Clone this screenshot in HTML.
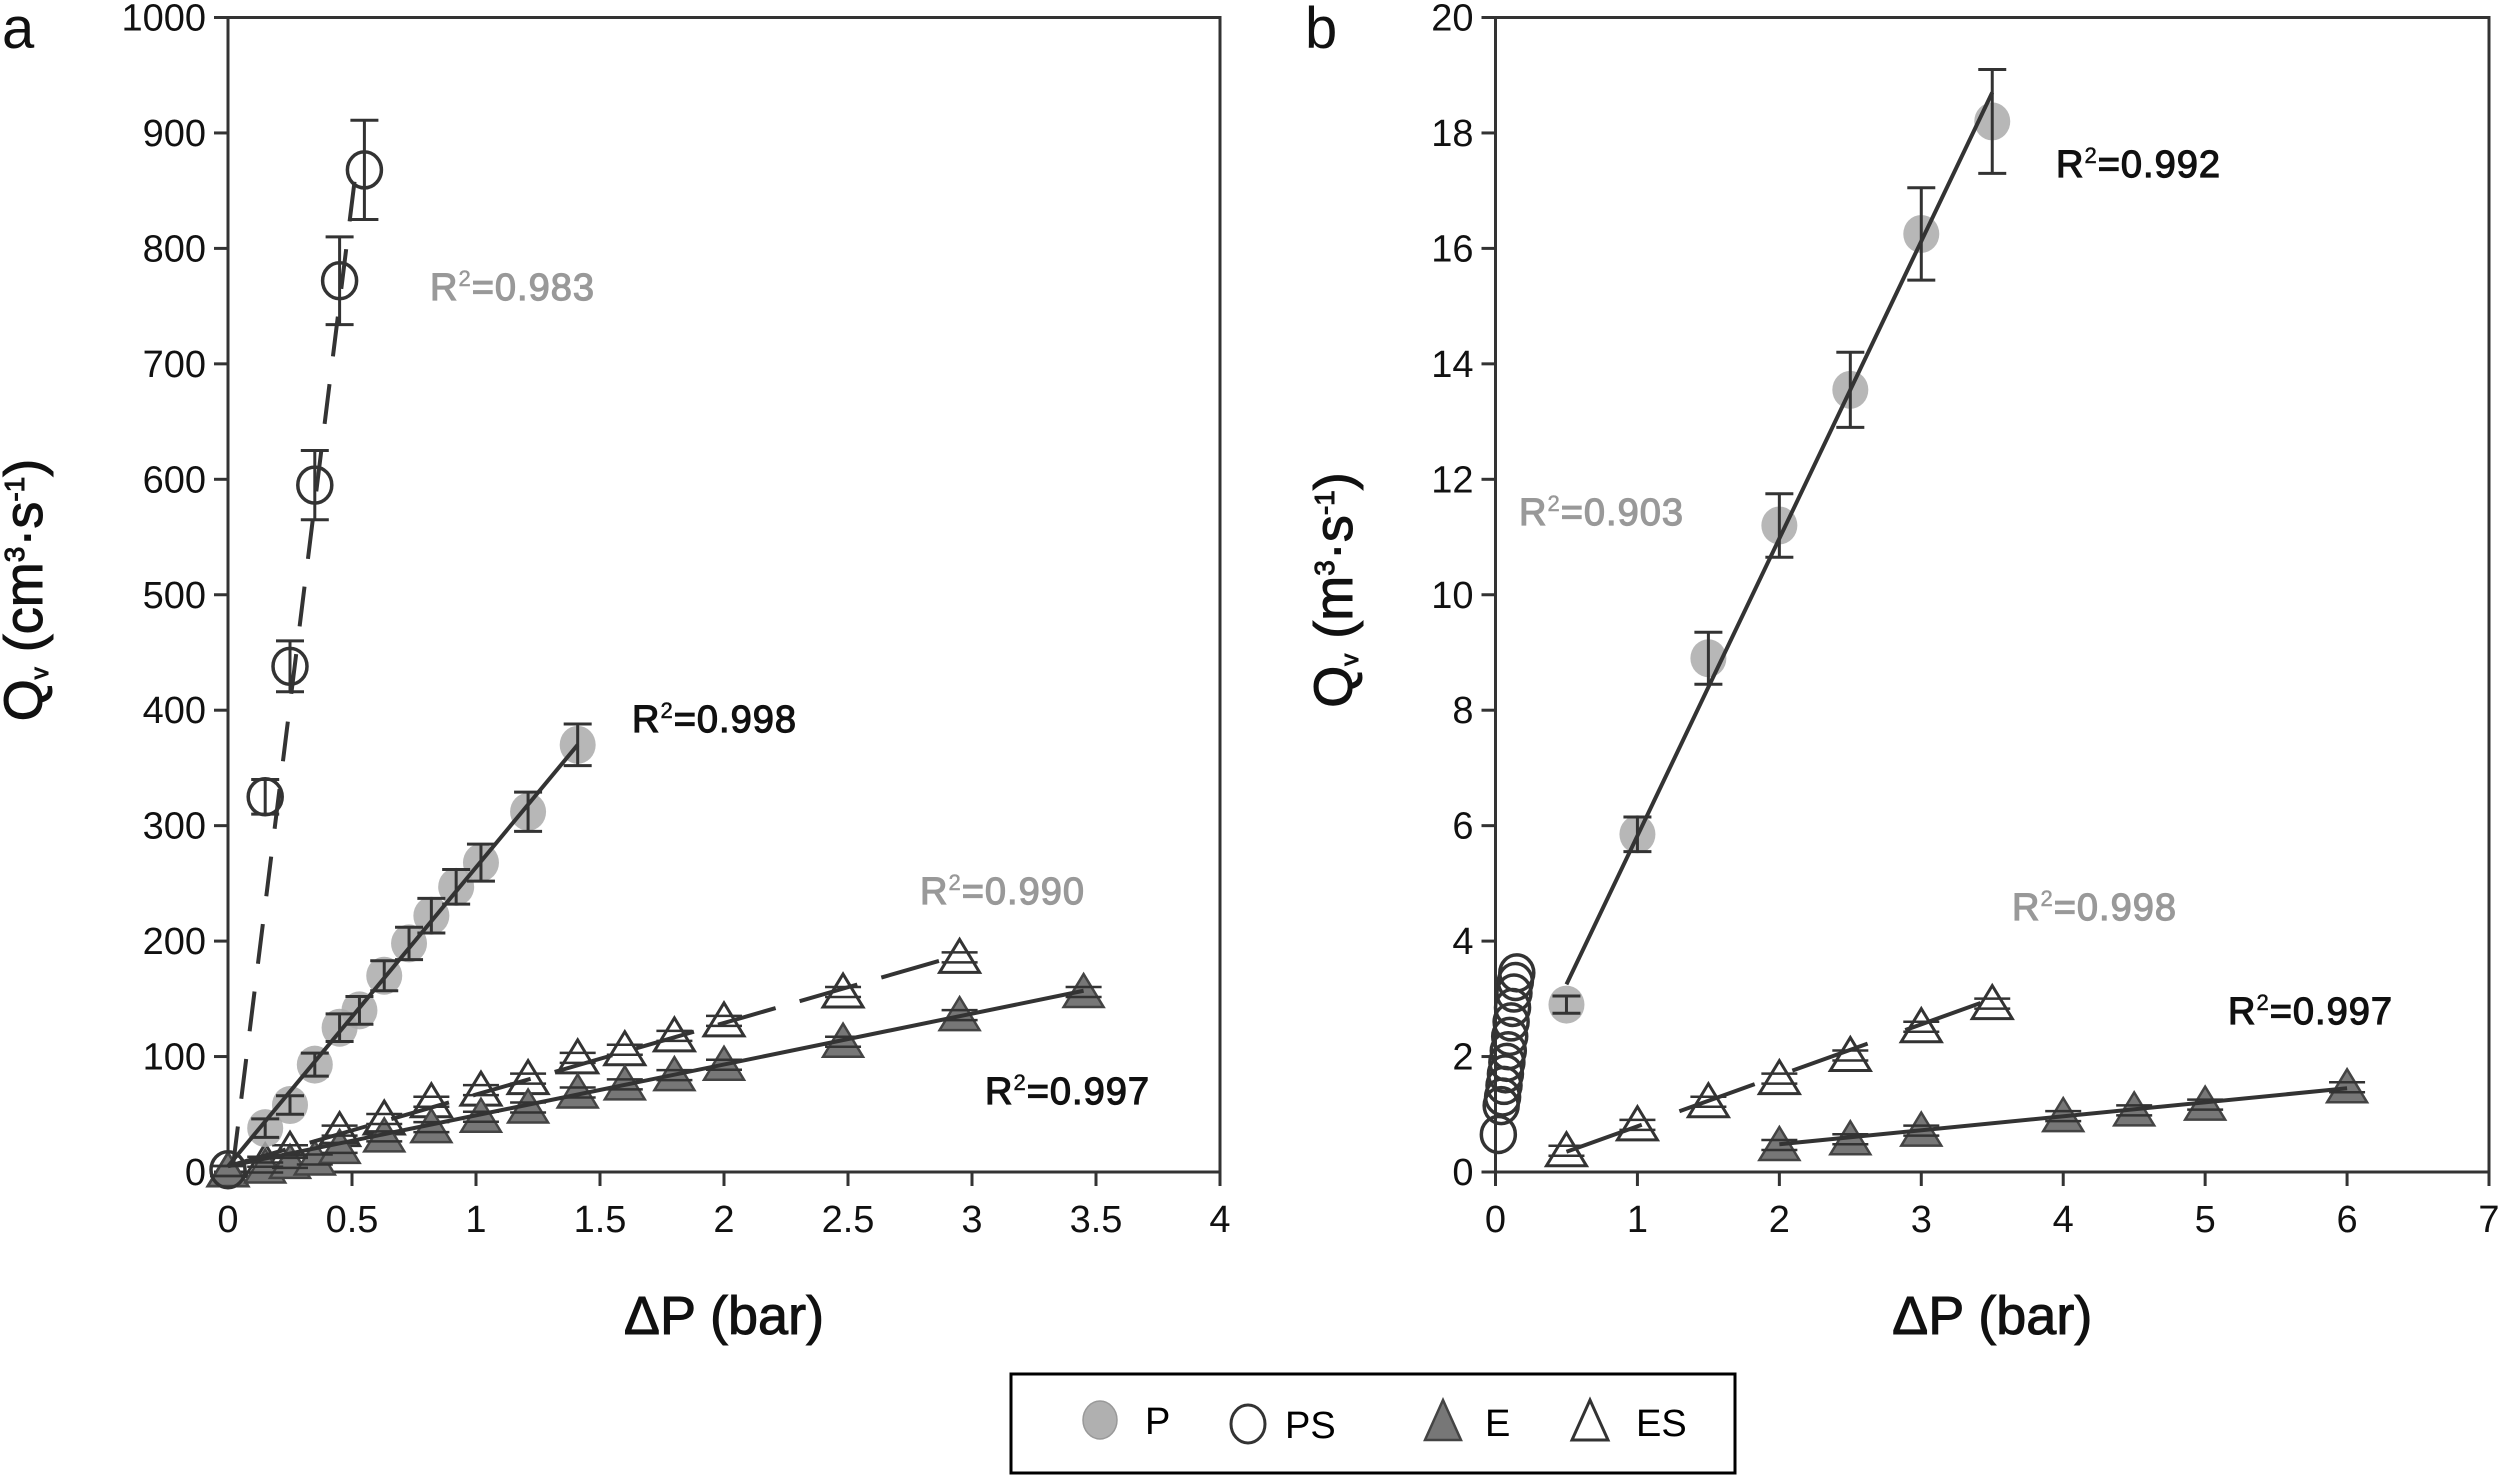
<!DOCTYPE html>
<html><head><meta charset="utf-8"><style>
html,body{margin:0;padding:0;background:#fff;}
svg{display:block;font-family:"Liberation Sans",Arial,sans-serif;}
</style></head><body>
<svg id="fig" width="2500" height="1475" viewBox="0 0 2500 1475">
<g id="pa"></g>
<g id="pb"></g>
<g id="legend">
<rect x="1011" y="1374" width="724" height="99" fill="#fff" stroke="#000" stroke-width="3"/>
<g><ellipse cx="1100" cy="1420" rx="17" ry="19" fill="#b0b0b0" stroke="#999" stroke-width="1.5"/><text x="1145" y="1434" font-size="38">P</text></g>
<g><ellipse cx="1248" cy="1424" rx="17" ry="19" fill="none" stroke="#333" stroke-width="3"/><text x="1285" y="1438" font-size="38">PS</text></g>
<g><polygon points="1443,1400 1461,1440 1425,1440" fill="#777" stroke="#444" stroke-width="2.5"/><text x="1485" y="1436" font-size="38">E</text></g>
<g><polygon points="1590,1400 1608,1440 1572,1440" fill="#fff" stroke="#333" stroke-width="3"/><text x="1636" y="1436" font-size="38">ES</text></g>
</g>
</svg>
<script>
// ---- Panel a data ----
const aP_x=[0.15,0.25,0.35,0.45,0.53,0.63,0.73,0.82,0.92,1.02,1.21,1.41];
const aP_y=[38,58,93,125,140,170,198,222,247,268,312,370];
const aP_err=[8,8,10,12,12,13,14,15,15,16,17,18];
const aPS_x=[0,0.15,0.25,0.35,0.45,0.55];
const aPS_y=[2,325,438,595,772,868];
const aPS_err=[0,15,22,30,38,43];
const aE_x=[0,0.15,0.25,0.35,0.45,0.63,0.82,1.02,1.21,1.41,1.6,1.8,2,2.48,2.95,3.45];
const aE_y=[0,3,7,10,20,30,38,47,55,68,75,83,92,112,135,155];
const aES_x=[0,0.15,0.25,0.45,0.63,0.82,1.02,1.21,1.41,1.6,1.8,2,2.48,2.95];
const aES_y=[0,8,18,35,45,60,70,80,98,105,117,130,155,185];
const aFitP=[[0,5],[1.41,370]];
const aFitPS=[[0.02,5],[0.52,875]];
const aFitE=[[0,5],[3.45,157]];
const aFitES=[[0,5],[2.95,188]];
const aXTicks=[0,0.5,1,1.5,2,2.5,3,3.5,4];
const aYTicks=[0,100,200,300,400,500,600,700,800,900,1000];
// ---- Panel b data ----
const bP_x=[0.5,1,1.5,2,2.5,3,3.5];
const bP_y=[2.9,5.85,8.9,11.2,13.55,16.25,18.2];
const bP_err=[0.15,0.3,0.45,0.55,0.65,0.8,0.9];
const bPS_x=[0.02,0.04,0.05,0.06,0.07,0.08,0.09,0.1,0.11,0.12,0.13,0.14,0.15];
const bPS_y=[0.65,1.15,1.3,1.5,1.7,1.9,2.1,2.35,2.6,2.85,3.1,3.3,3.45];
const bES_x=[0.5,1,1.5,2,2.5,3,3.5];
const bES_y=[0.35,0.8,1.2,1.6,2.0,2.5,2.9];
const bE_x=[2,2.5,3,4,4.5,5,6];
const bE_y=[0.45,0.55,0.7,0.95,1.05,1.15,1.45];
const bFitP=[[0.5,3.25],[3.5,18.7]];
const bFitES=[[0.5,0.35],[3.5,3.0]];
const bFitE=[[2,0.48],[6,1.45]];
const bXTicks=[0,1,2,3,4,5,6,7];
const bYTicks=[0,2,4,6,8,10,12,14,16,18,20];

const NS="http://www.w3.org/2000/svg";
function mk(tag,attrs,parent,txt){const e=document.createElementNS(NS,tag);for(const k in attrs)e.setAttribute(k,attrs[k]);if(txt!==undefined)e.textContent=txt;parent.appendChild(e);return e;}

function panel(g,cfg){
  const L=cfg.L,R=cfg.R,T=17.5,B=1172;
  const sx=v=>L+(v-cfg.xmin)/(cfg.xmax-cfg.xmin)*(R-L);
  const sy=v=>B-(v-0)/(cfg.ymax)*(B-T);
  const fr=mk('rect',{x:L,y:T,width:R-L,height:B-T,fill:'none',stroke:'#333','stroke-width':3},g);
  
  
  const xt=mk('g',{},g);
  
  
  cfg.xt.forEach(v=>{mk('line',{x1:sx(v),x2:sx(v),y1:B,y2:B+14,stroke:'#333','stroke-width':3},xt);
    const t=mk('text',{x:sx(v),y:B+60,'font-size':38,'text-anchor':'middle',fill:'#111'},xt,String(v));
    
    });
  const yt=mk('g',{},g);
  
  
  cfg.yt.forEach(v=>{mk('line',{x1:L-14,x2:L,y1:sy(v),y2:sy(v),stroke:'#333','stroke-width':3},yt);
    const t=mk('text',{x:L-22,y:sy(v)+13,'font-size':38,'text-anchor':'end',fill:'#111'},yt,String(v));
    
    });
  const xtitle=mk('text',{x:(L+R)/2,y:1334,'font-size':54,'text-anchor':'middle',fill:'#111','stroke':'#111','stroke-width':1},g,'ΔP (bar)');
  
  
  const ytitle=mk('text',{transform:`translate(${cfg.ytx},590) rotate(-90)`,'font-size':54,'text-anchor':'middle',fill:'#111','stroke':'#111','stroke-width':1},g);
  
  
  mk('tspan',{},ytitle,'Q');mk('tspan',{'font-size':24,dy:6},ytitle,'v');
  mk('tspan',{dy:-6},ytitle,' ('+cfg.unit);mk('tspan',{'font-size':28,dy:-18},ytitle,'3');
  mk('tspan',{dy:18},ytitle,'·s');mk('tspan',{'font-size':28,dy:-18},ytitle,'-1');mk('tspan',{dy:18},ytitle,')');
  const lab=mk('text',{x:cfg.labx,y:48,'font-size':58,fill:'#111'},g,cfg.lab);
  
  
  return {sx,sy};
}
function fit(g,s,pts,dash,name){
  const l=mk('line',{x1:s.sx(pts[0][0]),y1:s.sy(pts[0][1]),x2:s.sx(pts[1][0]),y2:s.sy(pts[1][1]),stroke:'#333','stroke-width':4,'stroke-dasharray':dash||'none'},g);
  
  
}
function errs(g,s,xs,ys,es){
  xs.forEach((x,i)=>{const e=es[i];if(!e)return;const X=s.sx(x);
    mk('path',{d:`M${X-14},${s.sy(ys[i]+e)}h28M${X},${s.sy(ys[i]+e)}V${s.sy(ys[i]-e)}M${X-14},${s.sy(ys[i]-e)}h28`,stroke:'#333','stroke-width':3,fill:'none'},g);});
}
function triBars(g,s,xs,ys){
  xs.forEach((x,i)=>{const X=s.sx(x),Y=s.sy(ys[i]);
    mk('path',{d:`M${X-18},${Y-6}h36M${X-18},${Y+4}h36`,stroke:'#333','stroke-width':2.5,fill:'none'},g);});
}
function pts(g,s,xs,ys,type,name){
  const grp=mk('g',{},g);
  
  
  xs.forEach((x,i)=>{const X=s.sx(x),Y=s.sy(ys[i]);let m;
    if(type==='P')m=mk('ellipse',{cx:X,cy:Y,rx:18,ry:19,fill:'#aaa','fill-opacity':0.85,stroke:'none'},grp);
    else if(type==='PS')m=mk('ellipse',{cx:X,cy:Y,rx:17,ry:18,fill:'none',stroke:'#333','stroke-width':3.5},grp);
    else if(type==='E')m=mk('polygon',{points:`${X},${Y-19} ${X+20},${Y+14} ${X-20},${Y+14}`,fill:'#777',stroke:'#444','stroke-width':2.5},grp);
    else m=mk('polygon',{points:`${X},${Y-19} ${X+20},${Y+14} ${X-20},${Y+14}`,fill:'#fff',stroke:'#333','stroke-width':3},grp);
    
    });
}
function r2(g,x,y,val,col){
  const t=mk('text',{x:x,y:y,'font-size':38,fill:col,stroke:col,'stroke-width':1.2,'letter-spacing':1},g);
  
  
  mk('tspan',{},t,'R');mk('tspan',{'font-size':22,dy:-14,'stroke-width':0.5},t,'2');mk('tspan',{dy:14},t,'='+val);
}
// Panel a
const ga=document.getElementById('pa');
const sa=panel(ga,{L:228,R:1220,xmin:0,xmax:4,ymax:1000,xt:aXTicks,yt:aYTicks,unit:'cm',ytx:42,labx:2,lab:'a'});
pts(ga,sa,aES_x,aES_y,'ES','series-es');
pts(ga,sa,aE_x,aE_y,'E','series-e');
triBars(ga,sa,aES_x,aES_y);triBars(ga,sa,aE_x,aE_y);
pts(ga,sa,aP_x,aP_y,'P','series-p');
pts(ga,sa,aPS_x,aPS_y,'PS','series-ps');
errs(ga,sa,aP_x,aP_y,aP_err);errs(ga,sa,aPS_x,aPS_y,aPS_err);
fit(ga,sa,aFitP,null,'fit-line-p');fit(ga,sa,aFitPS,'40,28','fit-line-ps');
fit(ga,sa,aFitE,null,'fit-line-e');fit(ga,sa,aFitES,'60,25','fit-line-es');
r2(ga,430,300,'0.983','#999');r2(ga,632,732,'0.998','#111');r2(ga,920,904,'0.990','#999');r2(ga,985,1104,'0.997','#111');
// Panel b
const gb=document.getElementById('pb');
const sb=panel(gb,{L:1495.5,R:2489,xmin:0,xmax:7,ymax:20,xt:bXTicks,yt:bYTicks,unit:'m',ytx:1352,labx:1305,lab:'b'});
pts(gb,sb,bPS_x,bPS_y,'PS','series-ps');
pts(gb,sb,bES_x,bES_y,'ES','series-es');
pts(gb,sb,bE_x,bE_y,'E','series-e');
triBars(gb,sb,bES_x,bES_y);triBars(gb,sb,bE_x,bE_y);
pts(gb,sb,bP_x,bP_y,'P','series-p');
errs(gb,sb,bP_x,bP_y,bP_err);
fit(gb,sb,bFitP,null,'fit-line-p');fit(gb,sb,bFitES,'80,40','fit-line-es');fit(gb,sb,bFitE,null,'fit-line-e');
r2(gb,2056,177,'0.992','#111');r2(gb,1519,525,'0.903','#999');r2(gb,2012,920,'0.998','#999');r2(gb,2228,1024,'0.997','#111');
</script>
</body></html>
